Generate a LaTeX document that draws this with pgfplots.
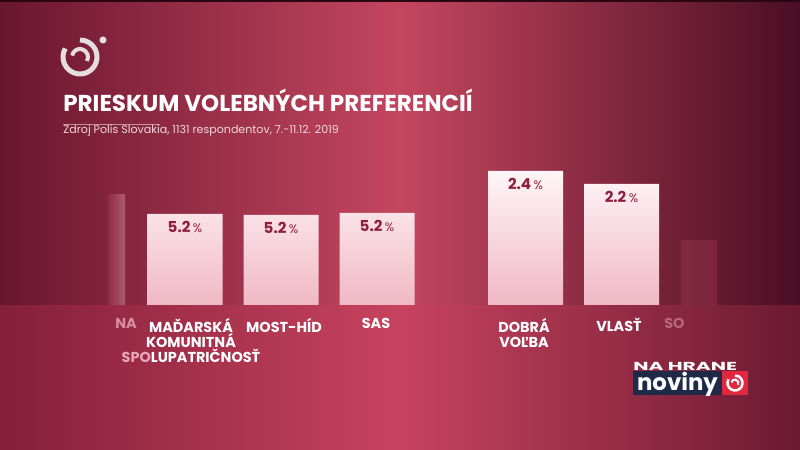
\documentclass[border=0pt]{standalone}
\usepackage{pgfplots}
\pgfplotsset{compat=1.18}
\usepackage{fontspec}
\setmainfont{Poppins}
\definecolor{bgL}{HTML}{6A1630}
\definecolor{bgM}{HTML}{C4465F}
\definecolor{bgR}{HTML}{4A0E24}
\definecolor{bgLow}{HTML}{D23C5E}
\definecolor{bgTop}{HTML}{2A0612}
\definecolor{logoGray}{HTML}{E6DDE0}
\definecolor{pL}{HTML}{9E3350}
\definecolor{pR}{HTML}{D0889B}
\definecolor{pRight}{HTML}{B0405E}
\definecolor{barTop}{HTML}{FFF5F7}
\definecolor{barBot}{HTML}{F0B8C6}
\definecolor{valRed}{HTML}{8E1E3C}
\definecolor{subtxt}{HTML}{F2D6DD}
\definecolor{navy}{HTML}{1F2A48}
\definecolor{logoRed}{HTML}{E2283E}
\definecolor{fadeTxt}{HTML}{E8A6B6}
\begin{document}
\begin{tikzpicture}
\begin{axis}[
  scale only axis, width=16cm, height=9cm,
  xmin=0, xmax=800, ymin=-145, ymax=305,
  hide axis, clip=true,
]
% background
\shade[left color=bgL, right color=bgR, middle color=bgM] (axis cs:0,-145) rectangle (axis cs:800,305);
\fill[bgLow, opacity=0.25] (axis cs:0,-145) rectangle (axis cs:800,0);
\fill[bgTop] (axis cs:0,303) rectangle (axis cs:800,305);
% logo top-left
\draw[logoGray, line width=0.1cm] ([shift={(150:0.34cm)}]axis cs:80,248) arc[start angle=150, end angle=450, radius=0.34cm];
\draw[logoGray, line width=0.08cm] ([shift={(170:0.16cm)}]axis cs:80,248) arc[start angle=170, end angle=-30, radius=0.16cm];
\fill[logoGray] (axis cs:103,265) circle[radius=0.07cm];
% title
\node[anchor=base west, inner sep=0, text=white, font=\bfseries\fontsize{13.1}{14}\selectfont] at (axis cs:63,193) {PRIESKUM VOLEBNÝCH PREFERENCIÍ};
\draw[white, opacity=0.5, line width=0.3pt] (axis cs:63,181) -- (axis cs:160,181);
\node[anchor=base west, inner sep=0, text=subtxt, font=\fontsize{6.3}{8}\selectfont] at (axis cs:63,171) {Zdroj Polis Slovakia, 1131 respondentov, 7.-11.12. 2019};
% partial bars
\addplot[ybar, bar width=17, bar shift=0pt, draw=none, left color=pL, right color=pR, opacity=0.55] coordinates {(116.5,110)};
\addplot[ybar, bar width=36, bar shift=0pt, draw=none, fill=pRight, opacity=0.3] coordinates {(699,65)};
% main bars
\addplot[ybar, bar width=75, bar shift=0pt, draw=none, top color=barTop, bottom color=barBot,
  point meta=explicit symbolic,
  nodes near coords={\textbf{\pgfplotspointmeta}\,{\fontsize{7}{8}\selectfont\%}},
  every node near coord/.append style={anchor=base, yshift=-0.38cm, inner sep=0, text=valRed, font=\fontsize{8.6}{9}\selectfont}]
  table[meta=label] {
x y label
185 91 5.2
281 90 5.2
377 92 5.2
525.5 134 2.4
621.5 121 2.2
};
% category labels
\tikzset{catlab/.style={anchor=north, inner sep=0, text=white, align=center, font=\bfseries\fontsize{8.2}{8.6}\selectfont}}
\node[catlab] at (axis cs:191,-13) {MAĎARSKÁ\\KOMUNITNÁ\\{\color{fadeTxt}SPO}LUPATRIČNOSŤ};
\node[catlab] at (axis cs:284,-13) {MOST-HÍD};
\node[catlab] at (axis cs:376,-13) {SAS};
\node[catlab] at (axis cs:524,-13) {DOBRÁ\\VOĽBA};
\node[catlab] at (axis cs:619,-13) {VLASŤ};
\node[catlab, text=fadeTxt, opacity=0.8] at (axis cs:126,-13) {NA};
\node[catlab, anchor=north west, text=fadeTxt, opacity=0.5] at (axis cs:664,-13) {SO};
% noviny logo
\node[anchor=south west, inner sep=0, text=white, font=\bfseries\fontsize{6.6}{7}\selectfont] at (axis cs:633,-65.5) {\scalebox{1.75}[1]{NA HRANE}};
\fill[navy] (axis cs:633,-90) rectangle (axis cs:722,-66);
\fill[logoRed] (axis cs:722,-90) rectangle (axis cs:748,-66);
\node[anchor=center, inner sep=0, text=white, font=\bfseries\fontsize{13}{14}\selectfont] at (axis cs:677.5,-79) {noviny};
\draw[white, line width=0.05cm] ([shift={(150:0.15cm)}]axis cs:735,-78) arc[start angle=150, end angle=450, radius=0.15cm];
\draw[white, line width=0.04cm] ([shift={(170:0.07cm)}]axis cs:735,-78) arc[start angle=170, end angle=-30, radius=0.07cm];
\end{axis}
\end{tikzpicture}
\end{document}
